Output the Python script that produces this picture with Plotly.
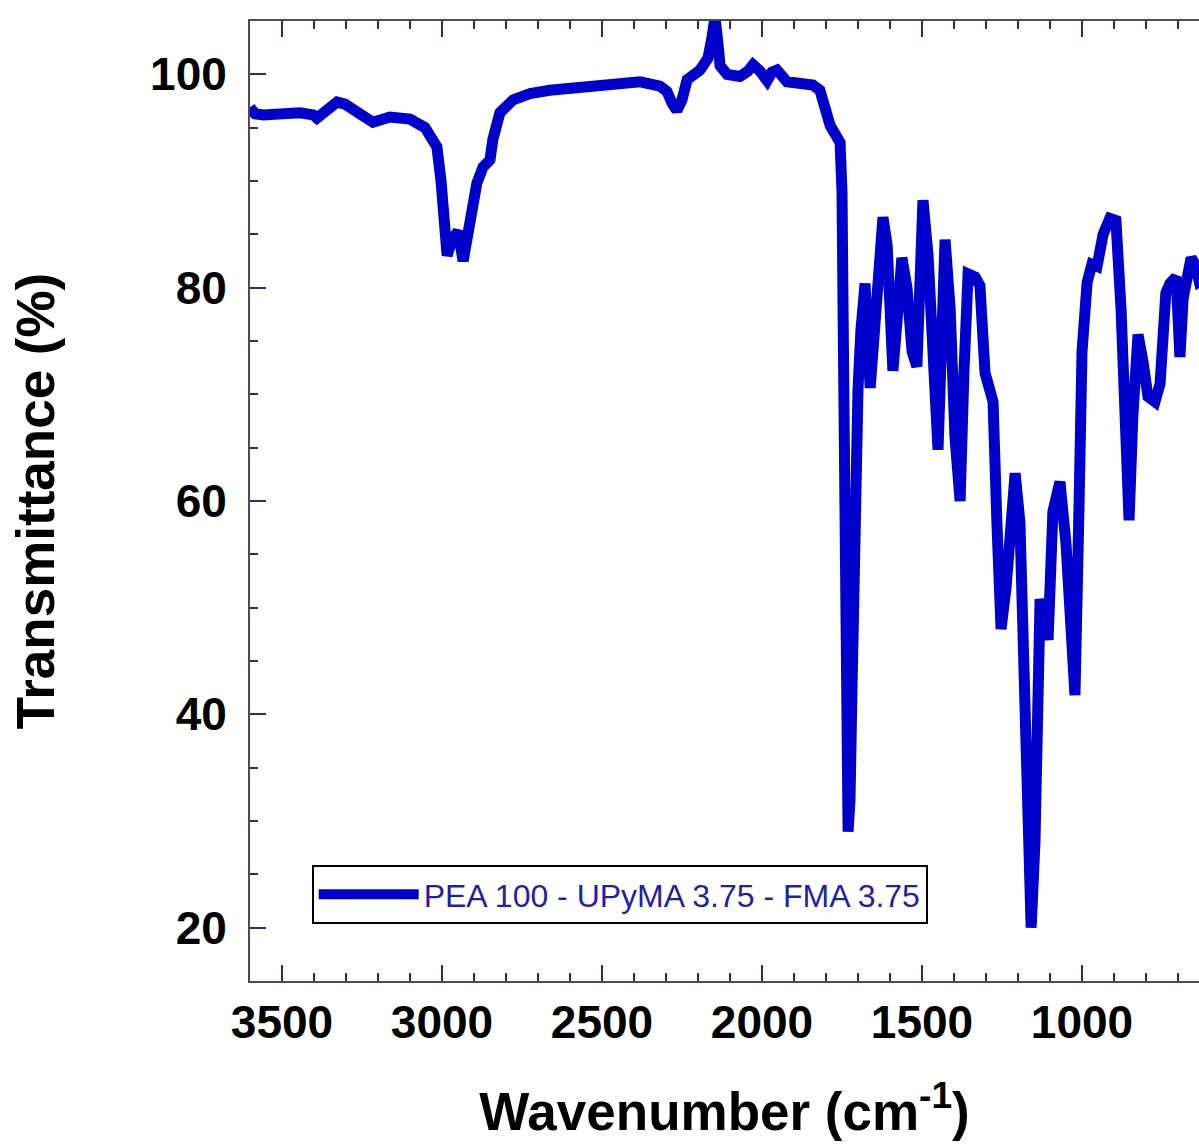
import plotly.graph_objects as go

# FTIR spectrum: wavenumber (cm-1) and transmittance (%)
wavenumber = [
    3600, 3584, 3559, 3506, 3444, 3403, 3391, 3366, 3328, 3303, 3256, 3216,
    3163, 3100, 3053, 3016, 3003, 2994, 2984, 2969, 2950, 2934, 2913, 2891,
    2872, 2850, 2841, 2819, 2778, 2725, 2663, 2569, 2506, 2381, 2319, 2297,
    2281, 2266, 2250, 2234, 2194, 2169, 2156, 2147, 2138, 2131, 2109, 2069,
    2044, 2028, 2006, 1984, 1969, 1953, 1922, 1881, 1841, 1819, 1809, 1787,
    1756, 1750, 1747, 1741, 1736, 1731, 1725, 1719, 1709, 1700, 1691, 1678,
    1662, 1647, 1634, 1622, 1609, 1591, 1575, 1563, 1547, 1531, 1516, 1497,
    1481, 1466, 1450, 1428, 1412, 1397, 1381, 1369, 1356, 1334, 1319, 1303,
    1278, 1266, 1253, 1237, 1222, 1209, 1194, 1181, 1169, 1159, 1147, 1138,
    1131, 1119, 1106, 1091, 1069, 1050, 1034, 1022, 1009, 1000, 984, 969,
    953, 934, 913, 894, 878, 859, 853, 841, 825, 809, 794, 772,
    756, 738, 725, 706, 694, 684, 672, 659, 647, 634, 616, 600,
]
transmittance = [
    96.9, 96.3, 96.2, 96.4, 96.4, 96.2, 95.9, 96.5, 97.4, 97.2, 96.2, 95.5,
    96.0, 95.8, 95.0, 93.2, 90.0, 86.0, 83.0, 84.5, 85.3, 82.5, 86.0, 89.8,
    91.3, 92.0, 93.9, 96.4, 97.6, 98.2, 98.5, 98.8, 99.1, 99.3, 98.9, 98.4,
    97.3, 96.6, 97.6, 99.5, 100.4, 101.5, 103.5, 105.4, 103.0, 100.8, 100.0, 99.8,
    100.3, 100.9, 100.3, 99.4, 100.2, 100.4, 99.3, 99.1, 99.0, 98.5, 97.6, 95.2,
    93.6, 89.0, 79.0, 60.0, 42.0, 29.0, 32.0, 42.0, 60.0, 70.5, 76.0, 80.4,
    70.6, 77.0, 84.0, 86.6, 84.0, 72.2, 78.0, 82.8, 80.0, 74.0, 72.6, 88.2,
    83.0, 72.0, 64.8, 84.5, 78.0, 66.0, 60.0, 72.0, 81.3, 81.0, 80.2, 72.0,
    69.3, 58.0, 48.0, 52.0, 60.0, 62.6, 58.0, 44.0, 28.0, 20.0, 28.0, 44.0,
    50.8, 49.0, 47.0, 59.0, 61.8, 56.0, 47.0, 41.8, 60.0, 74.0, 80.5, 82.2,
    82.0, 85.0, 86.5, 86.3, 78.0, 63.0, 58.2, 68.0, 75.6, 73.0, 69.8, 69.3,
    71.0, 79.5, 80.4, 81.0, 73.5, 79.0, 80.6, 82.8, 82.2, 80.6, 81.0, 81.0,
]
series_name = "PEA 100 - UPyMA 3.75 - FMA 3.75"

x_range = [3600, 634.4]
y_range = [15, 105]

LINE_BLUE = "#0000cc"
TICK_NAVY = "#2a2a8a"
AXIS_GREY = "#4d4d4d"
FONT = "Arial, Liberation Sans, sans-serif"

fig = go.Figure()
fig.add_trace(go.Scatter(
    x=wavenumber, y=transmittance, mode="lines", name=series_name,
    line=dict(color=LINE_BLUE, width=11),
))

fig.update_layout(
    width=1199, height=1148,
    margin=dict(l=250, r=0, t=21, b=167),
    paper_bgcolor="white", plot_bgcolor="white",
    font=dict(family=FONT, color="black"),
    showlegend=True,
    legend=dict(
        x=0.065, y=0.121, xanchor="left", yanchor="top",
        bgcolor="white", bordercolor="black", borderwidth=2,
        font=dict(family=FONT, size=32, color="#1f1fa8"),
        itemwidth=100,
    ),
    xaxis=dict(
        range=x_range, tick0=0, dtick=500,
        ticks="inside", ticklen=16, tickwidth=2, tickcolor=TICK_NAVY,
        minor=dict(dtick=100, ticks="inside", ticklen=8, tickwidth=2, tickcolor=TICK_NAVY),
        showline=True, linecolor=AXIS_GREY, linewidth=2, mirror="ticks",
        showgrid=False, zeroline=False,
        tickfont=dict(family=FONT, size=46, color="black", weight="bold"),
        ticklabelstandoff=0,
        title=dict(text="Wavenumber (cm<sup>-1</sup>)", standoff=46,
                   font=dict(family=FONT, size=53, color="black", weight="bold")),
    ),
    yaxis=dict(
        range=y_range, tick0=0, dtick=20,
        ticks="inside", ticklen=16, tickwidth=2, tickcolor=TICK_NAVY,
        minor=dict(dtick=5, ticks="inside", ticklen=8, tickwidth=2, tickcolor=TICK_NAVY),
        showline=True, linecolor=AXIS_GREY, linewidth=2, mirror=False,
        showgrid=False, zeroline=False,
        tickfont=dict(family=FONT, size=46, color="black", weight="bold"),
        ticklabelstandoff=12,
        title=dict(text="Transmittance (%)", standoff=78,
                   font=dict(family=FONT, size=53, color="black", weight="bold")),
    ),
    yaxis2=dict(
        range=y_range, tick0=0, dtick=20, overlaying="y", side="right",
        ticks="inside", ticklen=6, tickwidth=2, tickcolor=TICK_NAVY,
        showticklabels=False, showline=False, showgrid=False, zeroline=False,
    ),
)

fig.write_html("out.html")
